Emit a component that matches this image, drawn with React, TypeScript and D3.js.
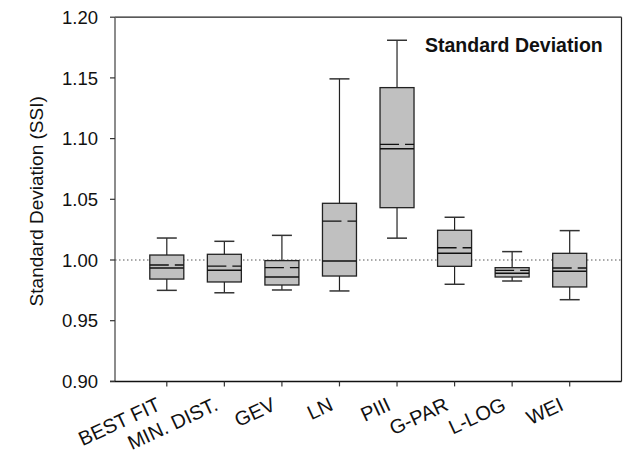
import React from "react";
import * as d3 from "d3";

const categories = ["BEST FIT", "MIN. DIST.", "GEV", "LN", "PIII", "G-PAR", "L-LOG", "WEI"];
const whiskerLow = [0.975, 0.973, 0.9753, 0.9745, 1.018, 0.98, 0.9827, 0.9673];
const q1 = [0.9843, 0.9819, 0.9794, 0.9868, 1.0431, 0.9948, 0.986, 0.9778];
const median = [0.9934, 0.9915, 0.986, 0.9992, 1.0917, 1.0055, 0.989, 0.9907];
const mean = [0.9959, 0.995, 0.9937, 1.0321, 1.0953, 1.0101, 0.9915, 0.9934];
const q3 = [1.0041, 1.0047, 0.9995, 1.0467, 1.142, 1.0245, 0.9937, 1.0055];
const whiskerHigh = [1.0181, 1.0154, 1.0203, 1.1492, 1.181, 1.0352, 1.0069, 1.0242];
const yTicks = [0.9, 0.95, 1.0, 1.05, 1.1, 1.15, 1.2];
const refValue = 1.0;

export default function App() {
  const W = 626, H = 461;
  const left = 115, right = 621.5, top = 17.2, bottom = 381.4;
  const x = d3.scaleLinear().domain([0.1, 8.9]).range([left, right]);
  const y = d3.scaleLinear().domain([0.9, 1.2]).range([bottom, top]);
  const boxW = 34;
  const capW = 20;
  const font = "Arial, 'Liberation Sans', sans-serif";
  return (
    <svg width={W} height={H} style={{ position: "absolute", left: 0, top: 0, background: "#fff" }}>
      {/* frame */}
      <line x1={left} x2={right} y1={top} y2={top} stroke="#222" strokeWidth={1.2} />
      <line x1={right} x2={right} y1={top} y2={bottom} stroke="#222" strokeWidth={1.2} />
      <line x1={left} x2={left} y1={top} y2={bottom} stroke="#666" strokeWidth={1.5} />
      <line x1={left - 5} x2={right} y1={bottom} y2={bottom} stroke="#111" strokeWidth={1.5} />
      {/* reference line */}
      <line x1={left} x2={right} y1={y(refValue)} y2={y(refValue)} stroke="#555" strokeWidth={1} strokeDasharray="1.5,2.5" />
      {/* y ticks */}
      {yTicks.map((t) => (
        <g key={t}>
          <line x1={left - 5} x2={left} y1={y(t)} y2={y(t)} stroke="#333" strokeWidth={1.2} />
          <text x={98} y={y(t)} dy="0.36em" textAnchor="end" fontFamily={font} fontSize={18.5} fill="#111">
            {d3.format(".2f")(t)}
          </text>
        </g>
      ))}
      <text transform={`translate(42.5,${(top + bottom) / 2 + 2}) rotate(-90)`} textAnchor="middle" fontFamily={font} fontSize={19} fill="#111">
        Standard Deviation (SSI)
      </text>
      {/* boxes */}
      {categories.map((c, i) => {
        const cx = x(i + 1);
        return (
          <g key={c}>
            <line x1={cx} x2={cx} y1={y(q3[i])} y2={y(whiskerHigh[i])} stroke="#222" strokeWidth={1.2} />
            <line x1={cx} x2={cx} y1={y(q1[i])} y2={y(whiskerLow[i])} stroke="#222" strokeWidth={1.2} />
            <line x1={cx - capW / 2} x2={cx + capW / 2} y1={y(whiskerHigh[i])} y2={y(whiskerHigh[i])} stroke="#333" strokeWidth={1.5} />
            <line x1={cx - capW / 2} x2={cx + capW / 2} y1={y(whiskerLow[i])} y2={y(whiskerLow[i])} stroke="#333" strokeWidth={1.5} />
            <rect x={cx - boxW / 2} y={y(q3[i])} width={boxW} height={y(q1[i]) - y(q3[i])} fill="#c0c0c0" stroke="#222" strokeWidth={1.3} />
            <line x1={cx - boxW / 2} x2={cx + boxW / 2} y1={y(median[i])} y2={y(median[i])} stroke="#111" strokeWidth={1.5} />
            <line x1={cx - boxW / 2} x2={cx + boxW / 2} y1={y(mean[i])} y2={y(mean[i])} stroke="#111" strokeWidth={1.3} strokeDasharray="19,6" />
          </g>
        );
      })}
      {/* x ticks */}
      {categories.map((c, i) => {
        const cx = x(i + 1);
        return (
          <g key={"t" + c}>
            <line x1={cx} x2={cx} y1={bottom} y2={bottom + 5} stroke="#333" strokeWidth={1.2} />
            <text transform={`translate(${cx - 5},${bottom + 28}) rotate(-25)`} textAnchor="end" fontFamily={font} fontSize={20} fill="#111">
              {c}
            </text>
          </g>
        );
      })}
      <text x={425} y={52} fontFamily={font} fontSize={19.5} fontWeight="bold" fill="#111">
        Standard Deviation
      </text>
    </svg>
  );
}
